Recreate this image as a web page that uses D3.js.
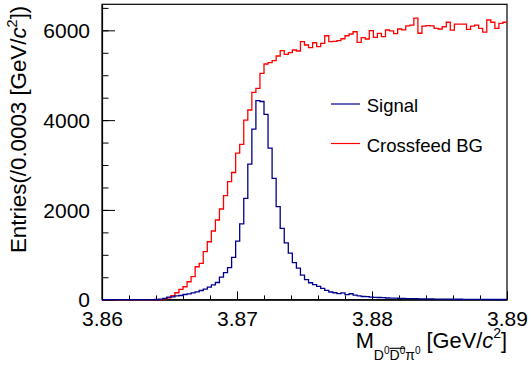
<!DOCTYPE html>
<html>
<head>
<meta charset="utf-8">
<script src="https://cdn.jsdelivr.net/npm/d3@7"></script>
<style>
  body { margin: 0; background: #fff; }
  svg { display: block; font-family: "Liberation Sans", Arial, sans-serif; }
</style>
</head>
<body>
<div id="chart"></div>
<script>
// histogram binning: 100 bins of 0.0003 GeV/c^2 from 3.86 to 3.89
const xMin = 3.86;
const binWidth = 0.0003;
const nBins = 100;

// bin contents
const signal = [
  0, 0, 0, 0, 0, 0, 0, 0, 0, 0,
  0, 1, 2, 5, 12, 30, 56, 62, 85, 94,
  116, 129, 152, 174, 205, 234, 279, 330, 383, 502,
  602, 713, 941, 1304, 1690, 2256, 3021, 3801, 4433, 4415,
  4129, 3378, 2702, 2074, 1587, 1267, 1037, 825, 705, 546,
  445, 378, 338, 298, 253, 209, 171, 155, 137, 153,
  115, 133, 100, 85, 71, 67, 56, 52, 49, 45,
  38, 36, 33, 30, 28, 26, 24, 22, 20, 19,
  18, 16, 15, 14, 13, 12, 11, 10, 10, 9,
  8, 8, 7, 7, 6, 6, 5, 5, 5, 4
];
const crossfeed = [
  0, 0, 0, 0, 0, 0, 0, 0, 0, 0,
  0, 0, 0, 0, 2, 19, 44, 88, 155, 231,
  289, 400, 512, 734, 810, 1069, 1291, 1530, 1775, 2020,
  2320, 2628, 2833, 3267, 3461, 4002, 4225, 4620, 4709, 5043,
  5250, 5279, 5324, 5428, 5546, 5466, 5502, 5562, 5540, 5747,
  5673, 5613, 5724, 5635, 5711, 5880, 5747, 5756, 5769, 5813,
  5880, 5918, 5969, 5733, 5836, 5807, 5992, 5845, 5934, 5858,
  6007, 5990, 5925, 6030, 6010, 6100, 6115, 6270, 5935, 6095,
  6105, 6100, 6045, 6030, 6080, 6180, 6005, 6140, 6140, 6140,
  6020, 6095, 6115, 6045, 5960, 6230, 6180, 6045, 6155, 6180
];

const xMajor = [3.86, 3.87, 3.88, 3.89];
const yMajor = [0, 2000, 4000, 6000];
const legendNames = ["Signal", "Crossfeed BG"];
const colors = {signal: "#00008f", crossfeed: "#ff0000"};

const width = 529, height = 365;
const frameL = 102, frameR = 507, frameT = 4.3, frameB = 299.7;

const svg = d3.select("#chart").append("svg")
    .attr("width", width)
    .attr("height", height);

const x = d3.scaleLinear().domain([3.86, 3.89]).range([frameL, frameR]);
const y = d3.scaleLinear().domain([0, 6580]).range([frameB, frameT]);

const font = 21;

// minor ticks
const xMinor = d3.range(0, 16).map(i => +(3.86 + i * 0.002).toFixed(3));
svg.append("g")
    .attr("transform", "translate(0," + frameB + ")")
    .call(d3.axisBottom(x).tickValues(xMinor).tickSize(-4.3).tickFormat(""))
    .call(g => g.select(".domain").remove());
const yMinor = d3.range(0, 14).map(i => i * 500);
svg.append("g")
    .attr("transform", "translate(" + frameL + ",0)")
    .call(d3.axisLeft(y).tickValues(yMinor).tickSize(-6.5).tickFormat(""))
    .call(g => g.select(".domain").remove());

// major axes
const xAxis = svg.append("g")
    .attr("transform", "translate(0," + frameB + ")")
    .call(d3.axisBottom(x).tickValues(xMajor).tickSize(-8.3).tickSizeOuter(0)
        .tickPadding(10).tickFormat(d3.format(".2f")));
const yAxis = svg.append("g")
    .attr("transform", "translate(" + frameL + ",0)")
    .call(d3.axisLeft(y).tickValues(yMajor).tickSize(-13).tickSizeOuter(0)
        .tickPadding(12).tickFormat(d3.format("d")));

[xAxis, yAxis].forEach(g => {
  g.selectAll("text")
    .attr("font-size", font)
    .attr("font-family", "Liberation Sans, Arial, sans-serif")
    .attr("fill", "#000");
  g.selectAll("line").attr("stroke", "#000");
  g.select(".domain").attr("stroke", "#000").attr("stroke-width", 1.2);
});
xAxis.selectAll("text").attr("dy", null).attr("y", 26);
yAxis.selectAll("text").attr("dy", "0.34em");

// frame
svg.append("rect")
    .attr("x", frameL).attr("y", frameT)
    .attr("width", frameR - frameL).attr("height", frameB - frameT)
    .attr("fill", "none").attr("stroke", "#000").attr("stroke-width", 1.2);

// histograms as steps
function stepPoints(vals) {
  const pts = vals.map((v, i) => [xMin + i * binWidth, v]);
  pts.push([xMin + nBins * binWidth, vals[nBins - 1]]);
  return pts;
}
const line = d3.line()
    .x(d => x(d[0]))
    .y(d => y(d[1]))
    .curve(d3.curveStepAfter);

svg.append("path")
    .attr("d", line(stepPoints(crossfeed)))
    .attr("fill", "none")
    .attr("stroke", colors.crossfeed)
    .attr("stroke-width", 1.3);
svg.append("path")
    .attr("d", line(stepPoints(signal)))
    .attr("fill", "none")
    .attr("stroke", colors.signal)
    .attr("stroke-width", 1.3);

// legend
const leg = svg.append("g");
[[colors.signal, 104, 112.3], [colors.crossfeed, 143.5, 151.7]].forEach((d, i) => {
  leg.append("line")
      .attr("x1", 331).attr("x2", 360)
      .attr("y1", d[1]).attr("y2", d[1])
      .style("stroke", d[0]).style("stroke-width", 1.2);
  leg.append("text")
      .attr("x", 366.7).attr("y", d[2])
      .attr("font-size", 18.5)
      .text(legendNames[i]);
});

// y title
const yTitle = svg.append("text")
    .attr("transform", "translate(25.5,253) rotate(-90)")
    .attr("font-size", 22.3);
yTitle.append("tspan").text("Entries(/0.0003 [GeV/");
yTitle.append("tspan").attr("font-style", "italic").text("c");
yTitle.append("tspan").attr("font-size", 14.5).attr("dy", -9).text("2");
yTitle.append("tspan").attr("dy", 9).text("])");

// x title
const xTitle = svg.append("text")
    .attr("x", 507).attr("y", 348.3)
    .attr("text-anchor", "end")
    .attr("font-size", 21.8);
xTitle.append("tspan").text("M");
xTitle.append("tspan").attr("font-size", 14).attr("dy", 11.5).text("D");
xTitle.append("tspan").attr("font-size", 10).attr("dy", -6).text("0");
xTitle.append("tspan").attr("font-size", 14).attr("dy", 6).text("D");
xTitle.append("tspan").attr("font-size", 10).attr("dy", -6).text("0");
xTitle.append("tspan").attr("font-size", 14).attr("dy", 6).text("π");
xTitle.append("tspan").attr("font-size", 10).attr("dy", -6).text("0");
xTitle.append("tspan").attr("dy", -5.5).text(" [GeV/");
xTitle.append("tspan").attr("font-style", "italic").text("c");
xTitle.append("tspan").attr("font-size", 14).attr("dy", -10).text("2");
xTitle.append("tspan").attr("dy", 10).text("]");

// bar over the second D0
const node = xTitle.node();
const a = node.getExtentOfChar(3), b = node.getExtentOfChar(4);
svg.append("line")
    .attr("x1", a.x).attr("x2", b.x + b.width)
    .attr("y1", 348.3).attr("y2", 348.3)
    .attr("stroke", "#000").attr("stroke-width", 1.1);
</script>
</body>
</html>
